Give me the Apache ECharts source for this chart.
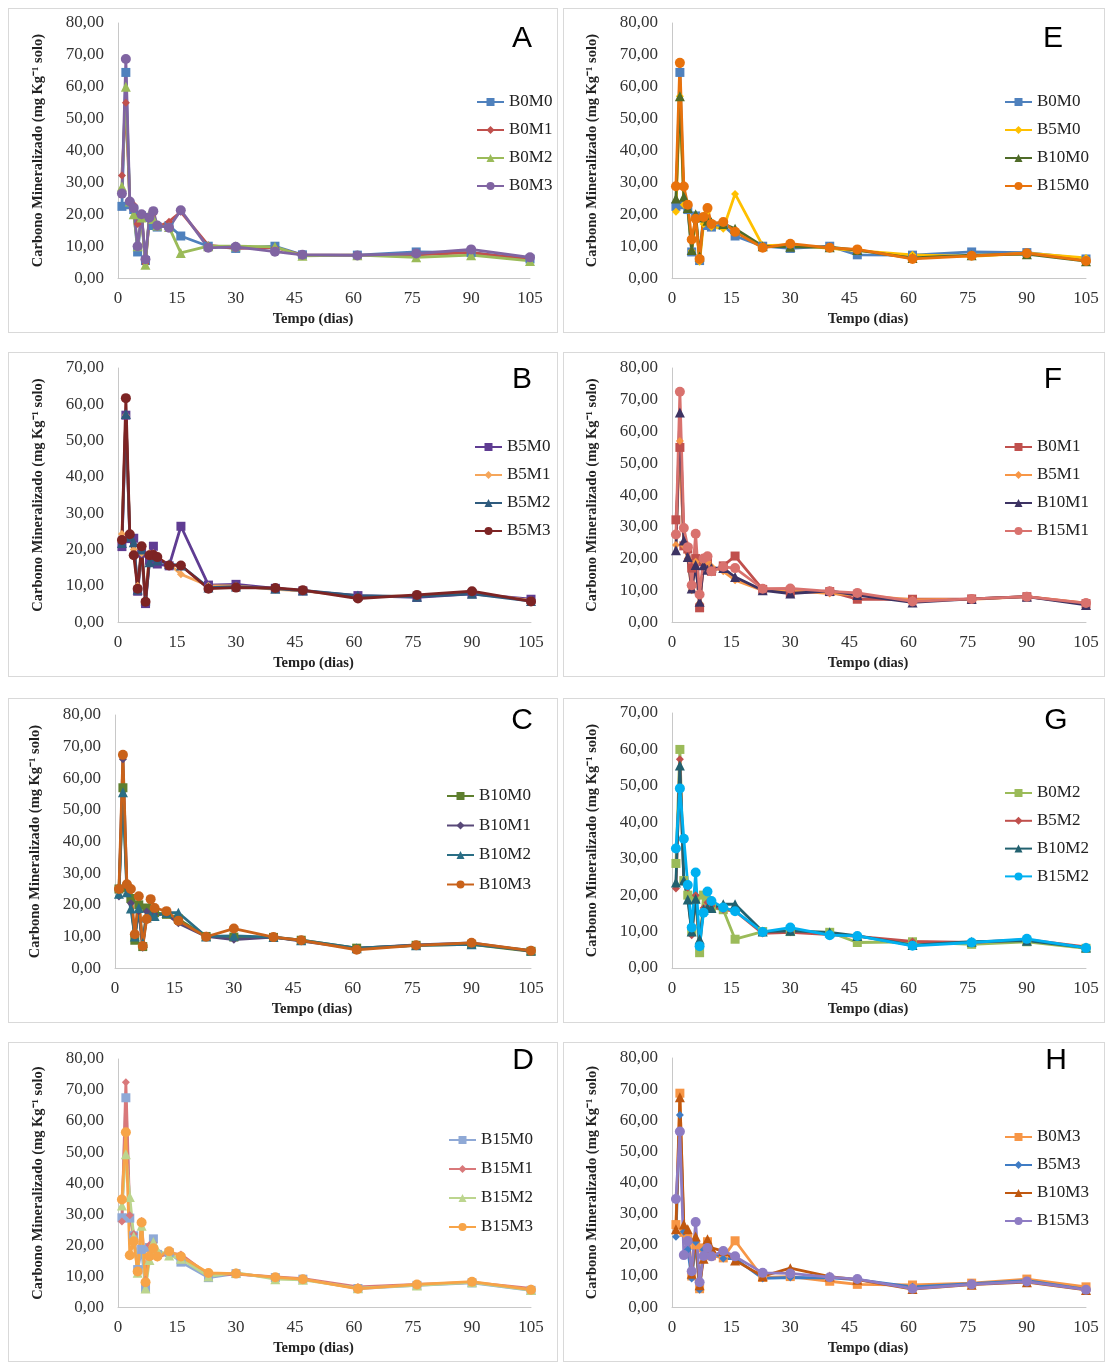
<!DOCTYPE html>
<html>
<head>
<meta charset="utf-8">
<script src="https://cdn.jsdelivr.net/npm/echarts/dist/echarts.min.js"></script>
<style>
    body { margin: 0; background: #fff; }
    .caixa { position: absolute; border: 1px solid #d9d9d9; box-sizing: border-box; background: #fff; }
</style>
</head>
<body>
<div id="A" class="caixa"></div>
<div id="B" class="caixa"></div>
<div id="C" class="caixa"></div>
<div id="D" class="caixa"></div>
<div id="E" class="caixa"></div>
<div id="F" class="caixa"></div>
<div id="G" class="caixa"></div>
<div id="H" class="caixa"></div>
<script>
// tempo (dias)
var dias = [1, 2, 3, 4, 5, 6, 7, 8, 9, 10, 13, 16, 23, 30, 40, 47, 61, 76, 90, 105];

// carbono mineralizado (mg kg-1 solo)
var B0M0 = [22.5, 64.5, 23, 21.5, 8.2, 19.5, 5.5, 19, 16.5, 16, 16.5, 13.2, 10, 9.3, 10, 7.3, 7.2, 8.2, 8, 6];
var B0M1 = [32.2, 55, 24, 23, 17, 20, 4.5, 19, 20, 16, 17.7, 20.8, 10.3, 9.3, 9.6, 7.2, 7.2, 7.3, 8, 5.8];
var B0M2 = [28.7, 60, 24, 20, 10, 19, 4.2, 20, 18.5, 16.5, 16, 7.9, 10, 10, 9.8, 7, 7.2, 6.5, 7.2, 5.4];
var B0M3 = [26.5, 68.7, 24, 22, 10, 20, 5.9, 19, 21, 16.5, 15.8, 21.3, 9.5, 9.8, 8.3, 7.3, 7.1, 7.7, 9, 6.5];
var B5M0 = [20.8, 57, 23, 23.1, 8.5, 19, 5.1, 17, 20.9, 16, 15.5, 26.4, 10.2, 10.4, 9.3, 8.6, 7.3, 6.8, 7.8, 6.3];
var B5M1 = [24.3, 57, 24, 20, 10, 19, 6, 19, 19, 17.5, 16, 13.2, 10, 10, 9, 8.6, 7, 7.2, 8, 6];
var B5M2 = [21.8, 57.3, 23.5, 22, 9, 20, 6, 16.5, 18, 17, 16, 15.6, 9.5, 9.8, 9.2, 8.7, 7.3, 7, 7.8, 5.8];
var B5M3 = [22.6, 61.7, 24.2, 18.4, 9.2, 20.9, 5.6, 18.4, 18.5, 17.9, 15.6, 15.6, 9.2, 9.5, 9.4, 8.8, 6.5, 7.5, 8.5, 5.7];
var B10M0 = [25, 57, 25.5, 22, 8.8, 20, 6.8, 19, 18, 17.5, 17, 15.5, 10, 9.8, 9.7, 8.8, 6.3, 7.2, 7.5, 5.3];
var B10M1 = [22.6, 66, 25.7, 20.5, 10.6, 18, 6.4, 17.9, 16.5, 17, 17, 14.2, 10, 9, 9.8, 8.5, 6.2, 7.3, 8, 5.4];
var B10M2 = [23.5, 55.6, 24, 18.8, 10, 19, 7.9, 16, 16.5, 16.5, 17.5, 17.5, 10, 10.2, 9.8, 8.8, 6.3, 7.2, 7.5, 5.6];
var B10M3 = [25, 67.4, 26.5, 25, 10.7, 22.7, 7, 15.5, 21.8, 19, 18, 15, 9.9, 12.5, 9.8, 8.8, 5.8, 7.2, 8, 5.5];
var B15M0 = [28.8, 67.5, 28.7, 23, 12.1, 18.6, 6, 19.2, 22, 17, 17.6, 14.5, 9.5, 10.8, 9.5, 9, 6, 7, 7.8, 5.4];
var B15M1 = [27.6, 72.5, 29.6, 23.6, 11.6, 27.8, 8.7, 20, 20.7, 16, 17.4, 17, 10.5, 10.6, 9.7, 9.2, 6.5, 7.3, 8, 6];
var B15M2 = [32.8, 49.3, 35.5, 22.8, 11.1, 26.2, 6, 15.2, 21, 18.4, 16.6, 15.6, 9.9, 11.1, 9, 8.8, 6.1, 7, 8, 5.5];
var B15M3 = [34.7, 56.4, 16.7, 21.2, 11.5, 27.3, 8, 16.4, 19, 16.3, 18, 16.3, 11, 10.8, 9.6, 9, 5.9, 7.3, 8.2, 5.6];

var series = {
    B0M0: B0M0, B0M1: B0M1, B0M2: B0M2, B0M3: B0M3,
    B5M0: B5M0, B5M1: B5M1, B5M2: B5M2, B5M3: B5M3,
    B10M0: B10M0, B10M1: B10M1, B10M2: B10M2, B10M3: B10M3,
    B15M0: B15M0, B15M1: B15M1, B15M2: B15M2, B15M3: B15M3
};

var xTicks = { min: 0, max: 105, interval: 15 };

var simbolos = ['rect', 'diamond', 'triangle', 'circle'];
var tamanhos = [9, 8, 10, 10];
var serif = 'Liberation Serif';

// caixa: [x, y, w, h]  area: [x0, y0, x1, y1]  leg: [x, y centro 1o item, passo]  letra: [cx, cy]
var paineis = [
    { id: 'A', nomes: ['B0M0', 'B0M1', 'B0M2', 'B0M3'], cores: ['#4F81BD', '#C0504D', '#9BBB59', '#8064A2'], yMax: 80,
      caixa: [8, 8, 550, 325], area: [117, 22, 529, 278], leg: [475, 101, 28], letra: [521, 38] },
    { id: 'B', nomes: ['B5M0', 'B5M1', 'B5M2', 'B5M3'], cores: ['#5F3C92', '#F5A65B', '#2F5B7E', '#7D2424'], yMax: 70,
      caixa: [8, 352, 550, 325], area: [117, 367, 530, 622], leg: [473, 446, 28], letra: [521, 379] },
    { id: 'C', nomes: ['B10M0', 'B10M1', 'B10M2', 'B10M3'], cores: ['#5E7F2E', '#584878', '#2A6E85', '#C9621A'], yMax: 80,
      caixa: [8, 698, 550, 325], area: [114, 714, 530, 969], leg: [445, 795, 29.5], letra: [521, 720] },
    { id: 'D', nomes: ['B15M0', 'B15M1', 'B15M2', 'B15M3'], cores: ['#8FA9D6', '#D9787A', '#BCD58E', '#F7A448'], yMax: 80,
      caixa: [8, 1042, 550, 320], area: [117, 1058, 530, 1313], leg: [447, 1139, 29], letra: [522, 1060] },
    { id: 'E', nomes: ['B0M0', 'B5M0', 'B10M0', 'B15M0'], cores: ['#4F81BD', '#FFC000', '#4F6B28', '#E8720C'], yMax: 80,
      caixa: [563, 8, 542, 325], area: [671, 22, 1085, 278], leg: [1003, 101, 28], letra: [1052, 38] },
    { id: 'F', nomes: ['B0M1', 'B5M1', 'B10M1', 'B15M1'], cores: ['#C0504D', '#F79646', '#3D3363', '#D9726E'], yMax: 80,
      caixa: [563, 352, 542, 325], area: [671, 367, 1085, 622], leg: [1003, 446, 28], letra: [1052, 379] },
    { id: 'G', nomes: ['B0M2', 'B5M2', 'B10M2', 'B15M2'], cores: ['#9BBB59', '#C0504D', '#22616F', '#00B0F0'], yMax: 70,
      caixa: [563, 698, 542, 325], area: [671, 712, 1085, 967], leg: [1003, 792, 27.8], letra: [1055, 720] },
    { id: 'H', nomes: ['B0M3', 'B5M3', 'B10M3', 'B15M3'], cores: ['#F79646', '#3F7CC4', '#C0580F', '#8E7CC3'], yMax: 80,
      caixa: [563, 1042, 542, 320], area: [671, 1057, 1085, 1312], leg: [1003, 1136, 28], letra: [1055, 1060] }
];

function pares(vals) {
    return dias.map(function (d, i) { return [d, vals[i]]; });
}

function Painel(p) {
    var div = document.getElementById(p.id);
    var c = p.caixa, a = p.area;
    div.style.left = c[0] + 'px';
    div.style.top = c[1] + 'px';
    div.style.width = c[2] + 'px';
    div.style.height = c[3] + 'px';

    var myChart = echarts.init(div);

    var lista = p.nomes.map(function (nome, i) {
        return {
            name: nome,
            type: 'line',
            data: pares(series[nome]),
            symbol: simbolos[i],
            symbolSize: tamanhos[i],
            lineStyle: { width: 2.8, color: p.cores[i] },
            itemStyle: { color: p.cores[i] },
            emphasis: { disabled: true }
        };
    });

    var option = {
        animation: false,
        grid: {
            left: a[0] - c[0],
            top: a[1] - c[1],
            width: a[2] - a[0],
            height: a[3] - a[1],
            containLabel: false
        },
        graphic: [{
            type: 'text',
            x: p.letra[0] - c[0],
            y: p.letra[1] - c[1],
            style: {
                text: p.id,
                fontSize: 30,
                fontFamily: 'Liberation Sans',
                fill: '#000',
                align: 'center',
                verticalAlign: 'middle'
            }
        }],
        legend: {
            orient: 'vertical',
            left: p.leg[0] - c[0],
            top: p.leg[1] - c[1] - 9,
            itemWidth: 27,
            itemHeight: 10,
            itemGap: p.leg[2] - 18,
            padding: 0,
            data: p.nomes,
            textStyle: {
                fontFamily: serif,
                fontSize: 17,
                lineHeight: 18,
                color: '#222'
            }
        },
        xAxis: {
            type: 'value',
            min: xTicks.min,
            max: xTicks.max,
            interval: xTicks.interval,
            name: 'Tempo (dias)',
            nameLocation: 'middle',
            nameGap: 33,
            nameTextStyle: {
                fontFamily: serif,
                fontSize: 14.5,
                fontWeight: 'bold',
                color: '#222',
                padding: [0, 22, 0, 0]
            },
            axisLine: { lineStyle: { color: '#c8c8c8', width: 1 } },
            axisTick: { show: false },
            splitLine: { show: false },
            axisLabel: {
                margin: 12,
                fontFamily: serif,
                fontSize: 17,
                color: '#333'
            }
        },
        yAxis: {
            type: 'value',
            min: 0,
            max: p.yMax,
            interval: 10,
            name: 'Carbono Mineralizado (mg Kg⁻¹ solo)',
            nameLocation: 'middle',
            nameGap: 72,
            nameTextStyle: {
                fontFamily: serif,
                fontSize: 14.5,
                fontWeight: 'bold',
                color: '#222'
            },
            axisLine: { show: true, lineStyle: { color: '#c8c8c8', width: 1 } },
            axisTick: { show: false },
            splitLine: { show: false },
            axisLabel: {
                margin: 14,
                fontFamily: serif,
                fontSize: 17,
                color: '#333',
                formatter: function (v) { return v.toFixed(2).replace('.', ','); }
            }
        },
        series: lista
    };

    myChart.setOption(option);
}

paineis.forEach(Painel);
</script>
</body>
</html>
